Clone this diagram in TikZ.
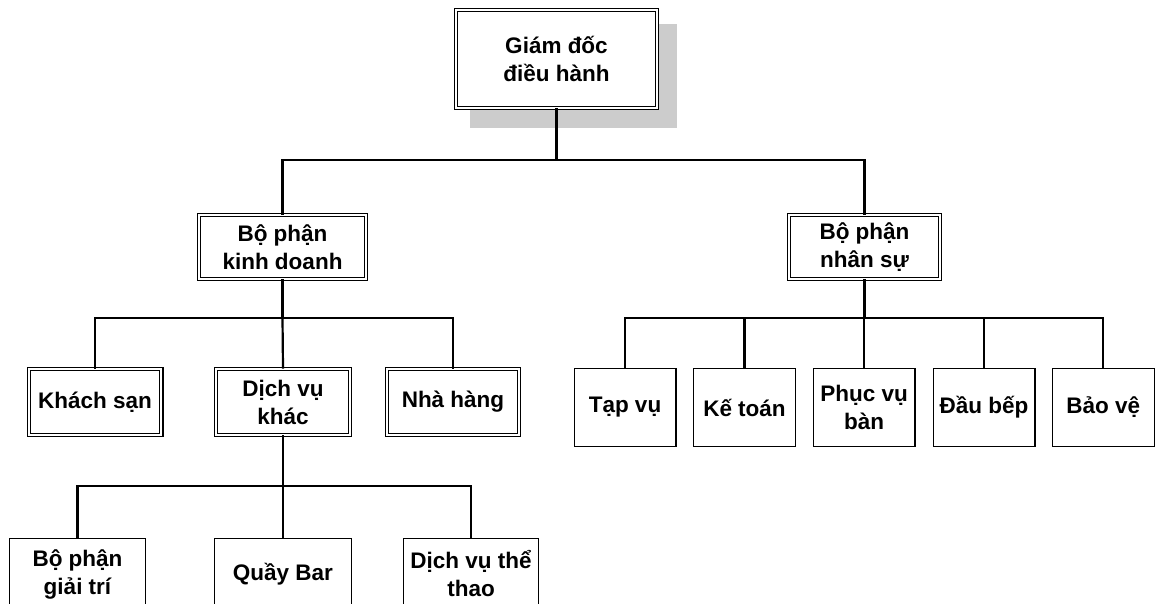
\documentclass[tikz,border=0pt]{standalone}
\usepackage{fontspec}
\setmainfont{Liberation Sans}
\begin{document}
\begin{tikzpicture}[x=1pt,y=-1pt,
  boxfont/.style={font=\fontsize{22.5}{28}\selectfont\bfseries},
  dbl/.style={draw, line width=1.1pt, double, double distance=2pt, fill=white, align=center, inner sep=0pt, boxfont},
  sgl/.style={draw, line width=1.3pt, fill=white, align=center, inner sep=0pt, boxfont, minimum width=101.7pt},
  conn/.style={line width=2.2pt}]
\useasboundingbox (0,0) rectangle (1155,603);
\clip (0,0) rectangle (1155,603);
% shadow
\fill[black!20] (470,24) rectangle (677,128);
% level 0
\node[dbl, minimum width=200.8pt, minimum height=97.8pt] (ceo) at (556.5,59) {Giám đốc\\điều hành};
% level 1
\node[dbl, minimum width=166.8pt, minimum height=63.8pt] (kd) at (282.5,247) {Bộ phận\\kinh doanh};
\node[dbl, minimum width=150.8pt, minimum height=63.8pt] (ns) at (864.5,247) {Bộ phận\\nhân sự};
% level 2 left
\node[dbl, minimum width=132.8pt, minimum height=65.8pt] (ks) at (95,402) {Khách sạn};
\node[dbl, minimum width=133.8pt, minimum height=65.8pt] (dvk) at (283,402) {Dịch vụ\\khác};
\node[dbl, minimum width=131.8pt, minimum height=65.8pt] (nh) at (453,402) {Nhà hàng};
% level 2 right
\node[sgl, minimum height=77.7pt] (tv) at (625,407.5) {Tạp vụ};
\node[sgl, minimum height=77.7pt] (kt) at (744.5,407.5) {Kế toán};
\node[sgl, minimum height=77.7pt] (pvb) at (864,407.5) {Phục vụ\\bàn};
\node[sgl, minimum height=77.7pt] (db) at (984,407.5) {Đầu bếp};
\node[sgl, minimum height=77.7pt] (bv) at (1103.3,407.5) {Bảo vệ};
% level 3
\node[sgl, minimum width=135.7pt, minimum height=70.7pt] (gt) at (77.5,574) {Bộ phận\\giải trí};
\node[sgl, minimum width=136.7pt, minimum height=70.7pt] (qb) at (283,574) {Quầy Bar};
\node[sgl, minimum width=134.7pt, minimum height=70.7pt] (tt) at (471,574) {Dịch vụ thể\\thao};
% connectors
\coordinate (j0) at (556.5,160);
\coordinate (j1) at (282.5,318);
\coordinate (j2) at (864.5,318);
\coordinate (j3) at (283,486);
\draw[conn] (ceo.south) -- (j0);
\draw[conn] (kd.north) |- (j0) -| (ns.north);
\draw[conn] (kd.south) -- (j1);
\draw[conn] (ks.north) |- (j1) -| (nh.north);
\draw[conn] (j1) -- (dvk.north);
\draw[conn] (ns.south) -- (j2);
\draw[conn] (tv.north) |- (j2) -| (bv.north);
\draw[conn] (kt.north) -- (kt.north |- j2);
\draw[conn] (pvb.north) -- (pvb.north |- j2);
\draw[conn] (db.north) -- (db.north |- j2);
\draw[conn] (dvk.south) -- (j3);
\draw[conn] (gt.north) |- (j3) -| (tt.north);
\draw[conn] (j3) -- (qb.north);
\end{tikzpicture}
\end{document}
